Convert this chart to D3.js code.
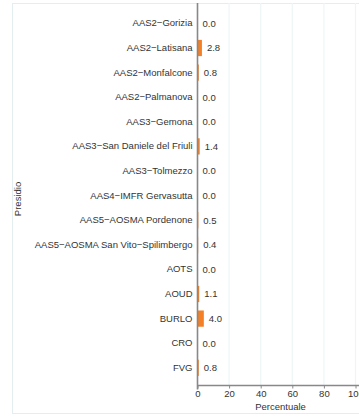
<!DOCTYPE html>
<html><head><meta charset="utf-8">
<script src="https://cdn.jsdelivr.net/npm/d3@7"></script>
<style>body{margin:0;background:#fff;}svg{display:block;font-family:"Liberation Sans",Arial,sans-serif;}</style>
</head><body><svg id="c" width="359" height="417"></svg>
<script>
const categories = ["AAS2\u2212Gorizia","AAS2\u2212Latisana","AAS2\u2212Monfalcone","AAS2\u2212Palmanova","AAS3\u2212Gemona","AAS3\u2212San Daniele del Friuli","AAS3\u2212Tolmezzo","AAS4\u2212IMFR Gervasutta","AAS5\u2212AOSMA Pordenone","AAS5\u2212AOSMA San Vito\u2212Spilimbergo","AOTS","AOUD","BURLO","CRO","FVG"];
const values = [0.0,2.8,0.8,0.0,0.0,1.4,0.0,0.0,0.5,0.4,0.0,1.1,4.0,0.0,0.8];
const xTicks = [0,20,40,60,80,100];
const xTitle = "Percentuale";
const yTitle = "Presidio";

const svg = d3.select("#c");
const m = {left:197.5, right:355.5, top:11, bottom:385.5};
const x = d3.scaleLinear().domain([0,100]).range([m.left, m.right]);
const y = d3.scaleBand().domain(categories).range([11.1, 380.1]).paddingInner(0.34).paddingOuter(0.17);

// panel border
svg.append("rect").attr("x",12.5).attr("y",3.5).attr("width",360).attr("height",410)
  .attr("fill","none").attr("stroke","#e3eeee").attr("stroke-width",1);

// gridlines
svg.append("g").selectAll("line").data(xTicks.filter(d=>d>0)).join("line")
  .attr("x1",d=>x(d)).attr("x2",d=>x(d)).attr("y1",m.top-8).attr("y2",m.bottom)
  .attr("stroke","#eef5f5").attr("stroke-width",1.2);

// bars
svg.append("g").selectAll("rect").data(categories).join("rect")
  .attr("x",x(0)).attr("y",c=>y(c))
  .attr("width",(c,i)=>x(values[i])-x(0)).attr("height",y.bandwidth())
  .attr("fill","#f47f24");

// value labels
svg.append("g").selectAll("text").data(categories).join("text")
  .attr("x",(c,i)=>x(values[i])+5).attr("y",c=>y(c)+y.bandwidth()/2)
  .attr("dy","0.35em").attr("font-size",9.5).attr("fill","#333")
  .text((c,i)=>values[i].toFixed(1));

// y axis
const ya = svg.append("g").attr("transform",`translate(${m.left},0)`)
  .call(d3.axisLeft(y).tickSize(0).tickPadding(5));
ya.select(".domain").remove();
ya.selectAll("text").attr("font-size",9.5).attr("fill","#333").attr("font-family","Liberation Sans, Arial, sans-serif");
svg.append("line").attr("x1",m.left).attr("x2",m.left).attr("y1",m.top-8).attr("y2",m.bottom+4)
  .attr("stroke","#888").attr("stroke-width",1.6);

// x axis
const xa = svg.append("g").attr("transform",`translate(0,${m.bottom})`)
  .call(d3.axisBottom(x).tickValues(xTicks).tickSize(3).tickPadding(2));
xa.select(".domain").attr("stroke","#888").attr("stroke-width",1.6).attr("d",`M${m.left},0H${m.right+10}`);
xa.selectAll(".tick line").attr("stroke","#888");
xa.selectAll("text").attr("font-size",9.5).attr("fill","#333").attr("font-family","Liberation Sans, Arial, sans-serif");

svg.append("text").attr("x",280.5).attr("y",410).attr("text-anchor","middle")
  .attr("font-size",9.5).attr("fill","#333").text(xTitle);
svg.append("text").attr("transform",`translate(21,199) rotate(-90)`).attr("text-anchor","middle")
  .attr("font-size",9.5).attr("fill","#333").text(yTitle);
</script></body></html>
